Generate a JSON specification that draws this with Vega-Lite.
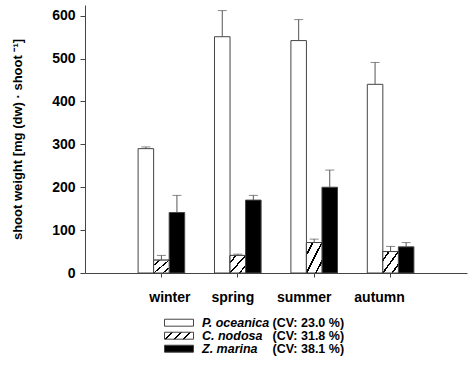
{
  "$schema": "https://vega.github.io/schema/vega-lite/v6.json",
  "autosize": {"type": "none"},
  "padding": {"left": 85, "top": 5, "right": 6, "bottom": 98},
  "width": 382,
  "height": 268,
  "background": "white",
  "config": {"view": {"stroke": null}, "font": "Liberation Sans"},
  "params": [
    {
      "name": "hatch",
      "value": {
        "gradient": "linear",
        "x1": 0, "y1": 0, "x2": 1, "y2": 0.24,
        "stops": [
          {"offset": 0, "color": "#ffffff"},
          {"offset": 0.22, "color": "#ffffff"},
          {"offset": 0.22, "color": "#000000"},
          {"offset": 0.27, "color": "#000000"},
          {"offset": 0.27, "color": "#ffffff"},
          {"offset": 0.52, "color": "#ffffff"},
          {"offset": 0.52, "color": "#000000"},
          {"offset": 0.57, "color": "#000000"},
          {"offset": 0.57, "color": "#ffffff"},
          {"offset": 0.82, "color": "#ffffff"},
          {"offset": 0.82, "color": "#000000"},
          {"offset": 0.87, "color": "#000000"},
          {"offset": 0.87, "color": "#ffffff"},
          {"offset": 1, "color": "#ffffff"}
        ]
      }
    }
  ],
  "data": {
    "values": [
      {"season": "winter", "species": "P. oceanica", "cv": "(CV: 23.0 %)", "value": 290, "upper": 294},
      {"season": "winter", "species": "C. nodosa", "cv": "(CV: 31.8 %)", "value": 30, "upper": 41},
      {"season": "winter", "species": "Z. marina", "cv": "(CV: 38.1 %)", "value": 141, "upper": 181},
      {"season": "spring", "species": "P. oceanica", "cv": "(CV: 23.0 %)", "value": 551, "upper": 612},
      {"season": "spring", "species": "C. nodosa", "cv": "(CV: 31.8 %)", "value": 41, "upper": 44},
      {"season": "spring", "species": "Z. marina", "cv": "(CV: 38.1 %)", "value": 170, "upper": 181},
      {"season": "summer", "species": "P. oceanica", "cv": "(CV: 23.0 %)", "value": 542, "upper": 591},
      {"season": "summer", "species": "C. nodosa", "cv": "(CV: 31.8 %)", "value": 71, "upper": 79},
      {"season": "summer", "species": "Z. marina", "cv": "(CV: 38.1 %)", "value": 200, "upper": 240},
      {"season": "autumn", "species": "P. oceanica", "cv": "(CV: 23.0 %)", "value": 440, "upper": 491},
      {"season": "autumn", "species": "C. nodosa", "cv": "(CV: 31.8 %)", "value": 50, "upper": 62},
      {"season": "autumn", "species": "Z. marina", "cv": "(CV: 38.1 %)", "value": 61, "upper": 71}
    ]
  },
  "encoding": {
    "x": {
      "field": "season",
      "type": "nominal",
      "sort": ["winter", "spring", "summer", "autumn"],
      "scale": {"paddingInner": 0.39, "paddingOuter": 0.695},
      "axis": {
        "title": null,
        "labelAngle": 0,
        "labelFont": "Liberation Sans",
        "labelFontSize": 14,
        "labelFontWeight": "bold",
        "labelColor": "black",
        "labelBaseline": "alphabetic",
        "labelPadding": 24,
        "labelOffset": {"expr": "datum.value == 'winter' ? 8.5 : datum.value == 'spring' ? -5 : datum.value == 'summer' ? -10 : -11"},
        "tickSize": 4,
        "tickColor": "#444",
        "domainColor": "#444"
      }
    },
    "xOffset": {
      "field": "species",
      "type": "nominal",
      "sort": ["P. oceanica", "C. nodosa", "Z. marina"],
      "scale": {"paddingInner": 0, "paddingOuter": 0}
    }
  },
  "layer": [
    {
      "mark": {"type": "bar", "stroke": "#444", "strokeWidth": 1},
      "encoding": {
        "y": {
          "field": "value",
          "type": "quantitative",
          "title": "shoot weight [mg (dw) · shoot ⁻¹]",
          "scale": {"domain": [0, 625], "nice": false, "zero": true},
          "axis": {
            "titleFont": "Liberation Sans",
            "titleFontSize": 13,
            "titleFontWeight": "bold",
            "titleColor": "black",
            "titlePadding": 27,
            "values": [0, 100, 200, 300, 400, 500, 600],
            "grid": false,
            "labelFont": "Liberation Sans",
            "labelFontSize": 14,
            "labelFontWeight": "bold",
            "labelColor": "black",
            "labelPadding": 5,
            "tickSize": 5,
            "tickColor": "#444",
            "domainColor": "#444"
          }
        },
        "fill": {
          "field": "species",
          "type": "nominal",
          "scale": {
            "domain": ["P. oceanica", "C. nodosa", "Z. marina"],
            "range": ["#ffffff", {"expr": "hatch"}, "#000000"]
          },
          "legend": {
            "orient": "none",
            "legendX": 79,
            "legendY": 312.7,
            "title": null,
            "padding": 0,
            "symbolType": "M-1,-0.24H1V0.24H-1Z",
            "symbolSize": 841,
            "symbolStrokeColor": "#444",
            "symbolStrokeWidth": 1,
            "labelFont": "Liberation Sans",
            "labelFontSize": 12.5,
            "labelFontWeight": "bold",
            "labelFontStyle": "italic",
            "labelColor": "black",
            "labelOffset": 8,
            "labelLimit": 0,
            "rowPadding": 0,
            "clipHeight": 10,
            "encode": {
              "symbols": {
                "update": {
                  "stroke": {"value": "#444"},
                  "strokeWidth": {"value": 1},
                  "opacity": {"value": 1}
                }
              }
            }
          }
        }
      }
    },
    {
      "transform": [{"filter": "datum.species === 'C. nodosa'"}],
      "mark": {
        "type": "bar",
        "stroke": "#444",
        "strokeWidth": 1,
        "fill": {
          "gradient": "linear",
          "x1": 0, "y1": 0, "x2": 1, "y2": 1,
          "stops": [
            {"offset": 0, "color": "#ffffff"},
            {"offset": 0.17, "color": "#ffffff"},
            {"offset": 0.17, "color": "#000000"},
            {"offset": 0.23, "color": "#000000"},
            {"offset": 0.23, "color": "#ffffff"},
            {"offset": 0.47, "color": "#ffffff"},
            {"offset": 0.47, "color": "#000000"},
            {"offset": 0.53, "color": "#000000"},
            {"offset": 0.53, "color": "#ffffff"},
            {"offset": 0.77, "color": "#ffffff"},
            {"offset": 0.77, "color": "#000000"},
            {"offset": 0.83, "color": "#000000"},
            {"offset": 0.83, "color": "#ffffff"},
            {"offset": 1, "color": "#ffffff"}
          ]
        }
      },
      "encoding": {
        "y": {"field": "value", "type": "quantitative", "title": "shoot weight [mg (dw) · shoot ⁻¹]"}
      }
    },
    {
      "mark": {"type": "rule", "color": "#555", "strokeWidth": 1},
      "encoding": {
        "y": {"field": "value", "type": "quantitative", "title": "shoot weight [mg (dw) · shoot ⁻¹]"},
        "y2": {"field": "upper"}
      }
    },
    {
      "mark": {"type": "tick", "color": "#555", "size": 9, "thickness": 1},
      "encoding": {
        "y": {"field": "upper", "type": "quantitative", "title": "shoot weight [mg (dw) · shoot ⁻¹]"}
      }
    },
    {
      "mark": {"type": "point", "opacity": 0},
      "encoding": {
        "y": {"field": "value", "type": "quantitative", "title": "shoot weight [mg (dw) · shoot ⁻¹]"},
        "shape": {
          "field": "cv",
          "type": "nominal",
          "legend": {
            "orient": "none",
            "legendX": 175,
            "legendY": 312.7,
            "title": null,
            "padding": 0,
            "symbolSize": 0,
            "symbolOpacity": 0,
            "symbolStrokeWidth": 0,
            "labelFont": "Liberation Sans",
            "labelFontSize": 12.5,
            "labelFontWeight": "bold",
            "labelColor": "black",
            "labelOffset": 0,
            "labelLimit": 0,
            "rowPadding": 0,
            "clipHeight": 10
          }
        }
      }
    }
  ]
}
